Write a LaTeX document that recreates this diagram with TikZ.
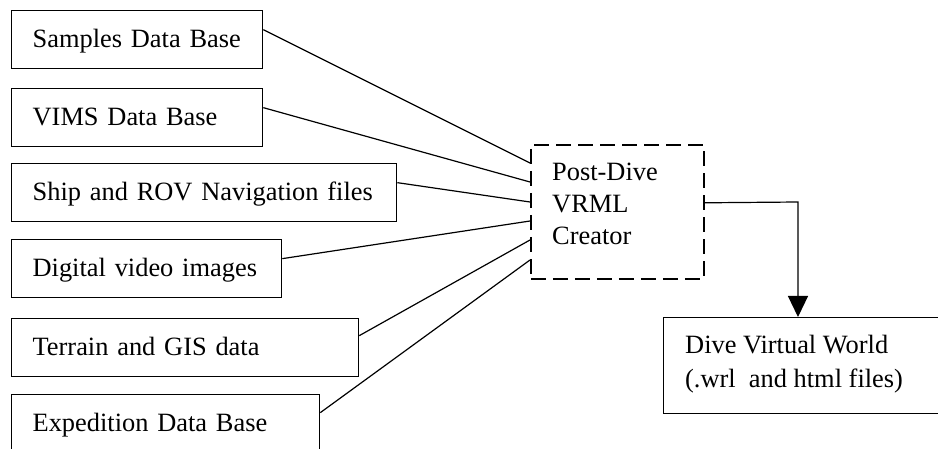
\documentclass[tikz,border=0pt]{standalone}
\usepackage{fontspec}
\setmainfont{Liberation Serif}
\usetikzlibrary{arrows.meta}
\tikzset{
  srcbox/.style={draw, line width=1.3pt, anchor=north west, minimum height=58pt,
    inner xsep=21pt, inner ysep=0pt, align=left, text height=19pt, text depth=4pt},
  bigbox/.style={line width=1.3pt, anchor=north west, inner sep=0pt},
  label/.style={anchor=base west, inner sep=0pt, align=left},
  link/.style={line width=1.2pt},
  flow/.style={line width=1.2pt, -{Triangle[width=20pt,length=21pt]}}
}
\begin{document}
\begin{tikzpicture}[x=1pt, y=-1pt, font=\fontsize{26.4}{31.4}\selectfont]
\useasboundingbox (0,0) rectangle (938,449);
\clip (0,0) rectangle (938,449);

% source boxes
\node[srcbox, text width=209pt] (samples) at (11,10) {\mbox{Samples Data Base}};
\node[srcbox, text width=209pt] (vims) at (11,88) {\mbox{VIMS Data Base}};
\node[srcbox, text width=343pt] (ship) at (11,163) {\mbox{Ship and ROV Navigation files}};
\node[srcbox, text width=228pt] (video) at (11,239) {\mbox{Digital video images}};
\node[srcbox, text width=305pt] (terrain) at (11,318) {\mbox{Terrain and GIS data}};
\node[srcbox, text width=266pt] (expedition) at (11,394) {\mbox{Expedition Data Base}};

% Post-Dive VRML Creator (dashed)
\node[bigbox, draw, line width=1.6pt, dash pattern=on 15pt off 7pt, minimum width=173pt, minimum height=134pt] (post) at (530,144) {};
\node[label] (posttext) at (552,245) {Post-Dive\\[1pt]VRML\\[1pt]Creator};

% Dive Virtual World
\node[bigbox, draw, minimum width=290pt, minimum height=96pt] (dive) at (663,317) {};
\node[label] (divetext) at (685,388) {Dive Virtual World\\[3.6pt](.wrl\ \ and html files)};

% connectors
\draw[link] ([yshift=10pt]samples.east) -- ([yshift=-19pt]post.north west);
\draw[link] ([yshift=10pt]vims.east) -- ([yshift=-38pt]post.north west);
\draw[link] ([yshift=10pt]ship.east) -- ([yshift=-58pt]post.north west);
\draw[link] ([yshift=10pt]video.east) -- ([yshift=-77pt]post.north west);
\draw[link] ([yshift=12pt]terrain.east) -- ([yshift=-96pt]post.north west);
\draw[link] ([yshift=11pt]expedition.east) -- ([yshift=-116pt]post.north west);

\coordinate (turn) at (798,202);
\draw[flow] ([yshift=9pt]post.east) -- (turn) -- (turn |- dive.north);
\end{tikzpicture}
\end{document}
